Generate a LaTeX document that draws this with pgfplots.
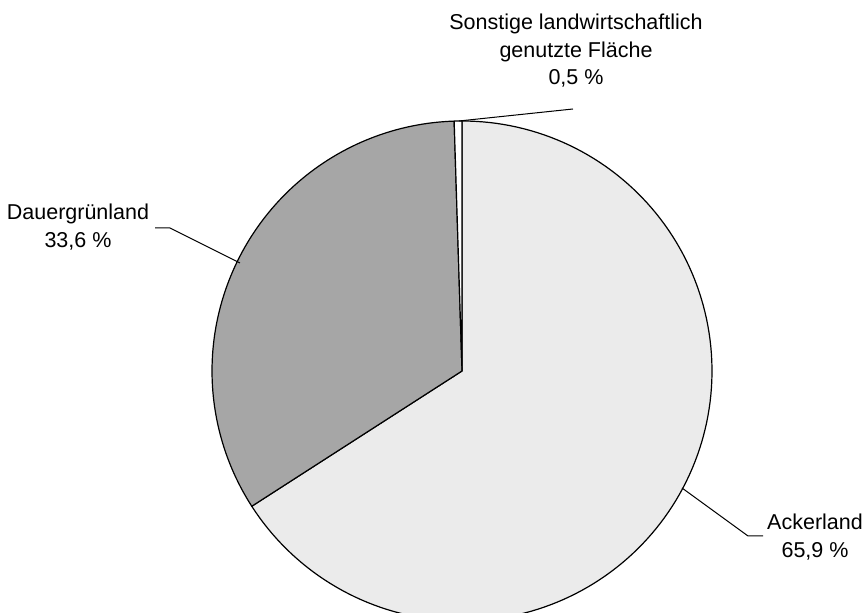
\documentclass[border=0pt]{standalone}
\usepackage{pgfplots}
\pgfplotsset{compat=1.18}
\usepackage{fontspec}
\setmainfont{Liberation Sans}
% shares in percent
\def\ack{65.9}
\def\dau{33.6}
\def\son{0.5}
\begin{document}
\begin{tikzpicture}
\begin{axis}[
  scale only axis,
  width=432.5pt, height=306.5pt,
  xmin=-1.848, xmax=1.612,
  ymin=-0.968, ymax=1.484,
  axis lines=none,
  clip=true,
]
% Ackerland
\addplot[draw=black, line width=0.6pt, fill=black!8, domain={90-\ack*3.6}:90, samples=150]
  ({cos(x)},{sin(x)}) -- (axis cs:0,0) -- cycle;
% Dauergruenland
\addplot[draw=black, line width=0.6pt, fill=black!35, domain={90-(\ack+\dau)*3.6}:{90-\ack*3.6}, samples=100]
  ({cos(x)},{sin(x)}) -- (axis cs:0,0) -- cycle;
% Sonstige
\addplot[draw=black, line width=0.6pt, fill=white, domain={90-100*3.6}:{90-(\ack+\dau)*3.6}, samples=5]
  ({cos(x)},{sin(x)}) -- (axis cs:0,0) -- cycle;
% leader lines
\addplot[black, line width=0.5pt] coordinates {(0.444,1.048) (-0.012,1.0)};
\addplot[black, line width=0.5pt] coordinates {(-1.228,0.572) (-1.168,0.572) (-0.888,0.432)};
\addplot[black, line width=0.5pt] coordinates {(0.88,-0.468) (1.144,-0.66) (1.204,-0.66)};
% labels
\node[anchor=north, inner sep=0pt, align=center, font=\fontsize{10.75}{13.75}\selectfont]
  at (axis cs:0.456,1.428) {Sonstige landwirtschaftlich\\genutzte Fläche\\0,5 \%};
\node[anchor=north, inner sep=0pt, align=center, font=\fontsize{10.75}{13.75}\selectfont]
  at (axis cs:-1.536,0.668) {Dauergrünland\\33,6 \%};
\node[anchor=north, inner sep=0pt, align=center, font=\fontsize{10.75}{13.75}\selectfont]
  at (axis cs:1.412,-0.572) {Ackerland\\65,9 \%};
\end{axis}
\pgfresetboundingbox
\useasboundingbox (current axis.south west) rectangle (current axis.north east);
\end{tikzpicture}
\end{document}
